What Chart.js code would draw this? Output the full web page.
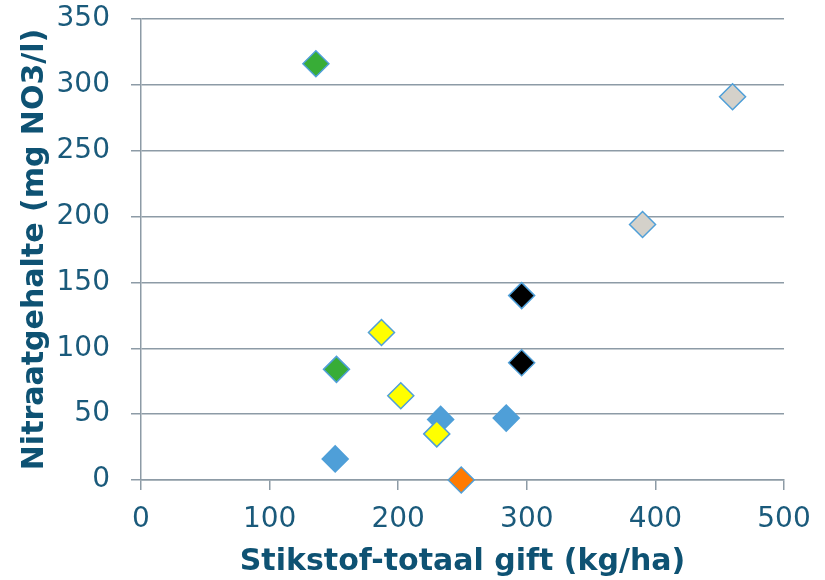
<!DOCTYPE html>
<html>
<head>
<meta charset="utf-8">
<script src="https://cdn.jsdelivr.net/npm/chart.js@4"></script>
<style>
  html, body { margin: 0; padding: 0; background: #fff; }
  #wrap { width: 825px; height: 580px; }
</style>
</head>
<body>
<div id="wrap"><canvas id="chart"></canvas></div>
<script>
// Stikstof-totaal gift (kg/ha) vs nitraatgehalte (mg NO3/l), per group
const greenX = [136, 152];
const greenY = [316, 84];
const blueX = [151, 233, 284];
const blueY = [16, 46, 47];
const yellowX = [187, 202, 230];
const yellowY = [112, 64, 35];
const orangeX = [249];
const orangeY = [0];
const blackX = [296, 296];
const blackY = [140, 89];
const greyX = [390, 460];
const greyY = [194, 291];

const textColor = '#1a5a7b';
const gridColor = '#8d9ba6';

function pts(xs, ys) {
    return xs.map((x, i) => ({ x: x, y: ys[i] }));
}

function series(label, xs, ys, fill) {
    return {
        label: label,
        data: pts(xs, ys),
        pointStyle: 'rectRot',
        pointRadius: 13,
        pointHoverRadius: 13,
        backgroundColor: fill,
        borderColor: '#4f9fd8',
        borderWidth: 1.5,
        clip: false
    };
}

// first dataset is drawn on top, so the blue group goes last
const ctx = document.getElementById('chart').getContext('2d');
new Chart(ctx, {
    type: 'scatter',
    data: {
        datasets: [
            series('grijs', greyX, greyY, '#d4d1ca'),
            series('zwart', blackX, blackY, '#000000'),
            series('oranje', orangeX, orangeY, '#ff7a00'),
            series('geel', yellowX, yellowY, '#ffff00'),
            series('groen', greenX, greenY, '#38ad37'),
            series('blauw', blueX, blueY, '#4f9fd8')
        ]
    },
    options: {
        responsive: true,
        maintainAspectRatio: false,
        animation: false,
        layout: { padding: { top: 0, right: 41, bottom: 0, left: 17 } },
        plugins: {
            legend: { display: false },
            tooltip: { enabled: false }
        },
        scales: {
            x: {
                type: 'linear',
                min: 0,
                max: 500,
                ticks: { stepSize: 100, color: textColor, font: { family: 'DejaVu Sans', size: 28 }, padding: 13 },
                grid: { drawOnChartArea: false, color: gridColor, lineWidth: 1.5, tickLength: 10 },
                border: { color: gridColor, width: 1.5 },
                title: {
                    display: true,
                    text: 'Stikstof-totaal gift (kg/ha)',
                    color: '#0e5273',
                    font: { family: 'DejaVu Sans', size: 30, weight: 'bold' },
                    padding: { top: 0, bottom: 0 }
                },
                afterFit: function (s) {
                    s.height = 100;
                }
            },
            y: {
                min: 0,
                max: 350,
                ticks: { stepSize: 50, color: textColor, font: { family: 'DejaVu Sans', size: 28 }, padding: 21 },
                grid: { color: gridColor, lineWidth: 1.5, tickLength: 10 },
                border: { color: gridColor, width: 1.5 },
                title: {
                    display: true,
                    text: 'Nitraatgehalte (mg NO3/l)',
                    color: '#0e5273',
                    font: { family: 'DejaVu Sans', size: 30, weight: 'bold' },
                    padding: { top: 0, bottom: 2 }
                },
                afterFit: function (s) {
                    s.width = 124;
                    s.paddingTop = 19;
                    s.paddingBottom = 0;
                }
            }
        }
    }
});
</script>
</body>
</html>
